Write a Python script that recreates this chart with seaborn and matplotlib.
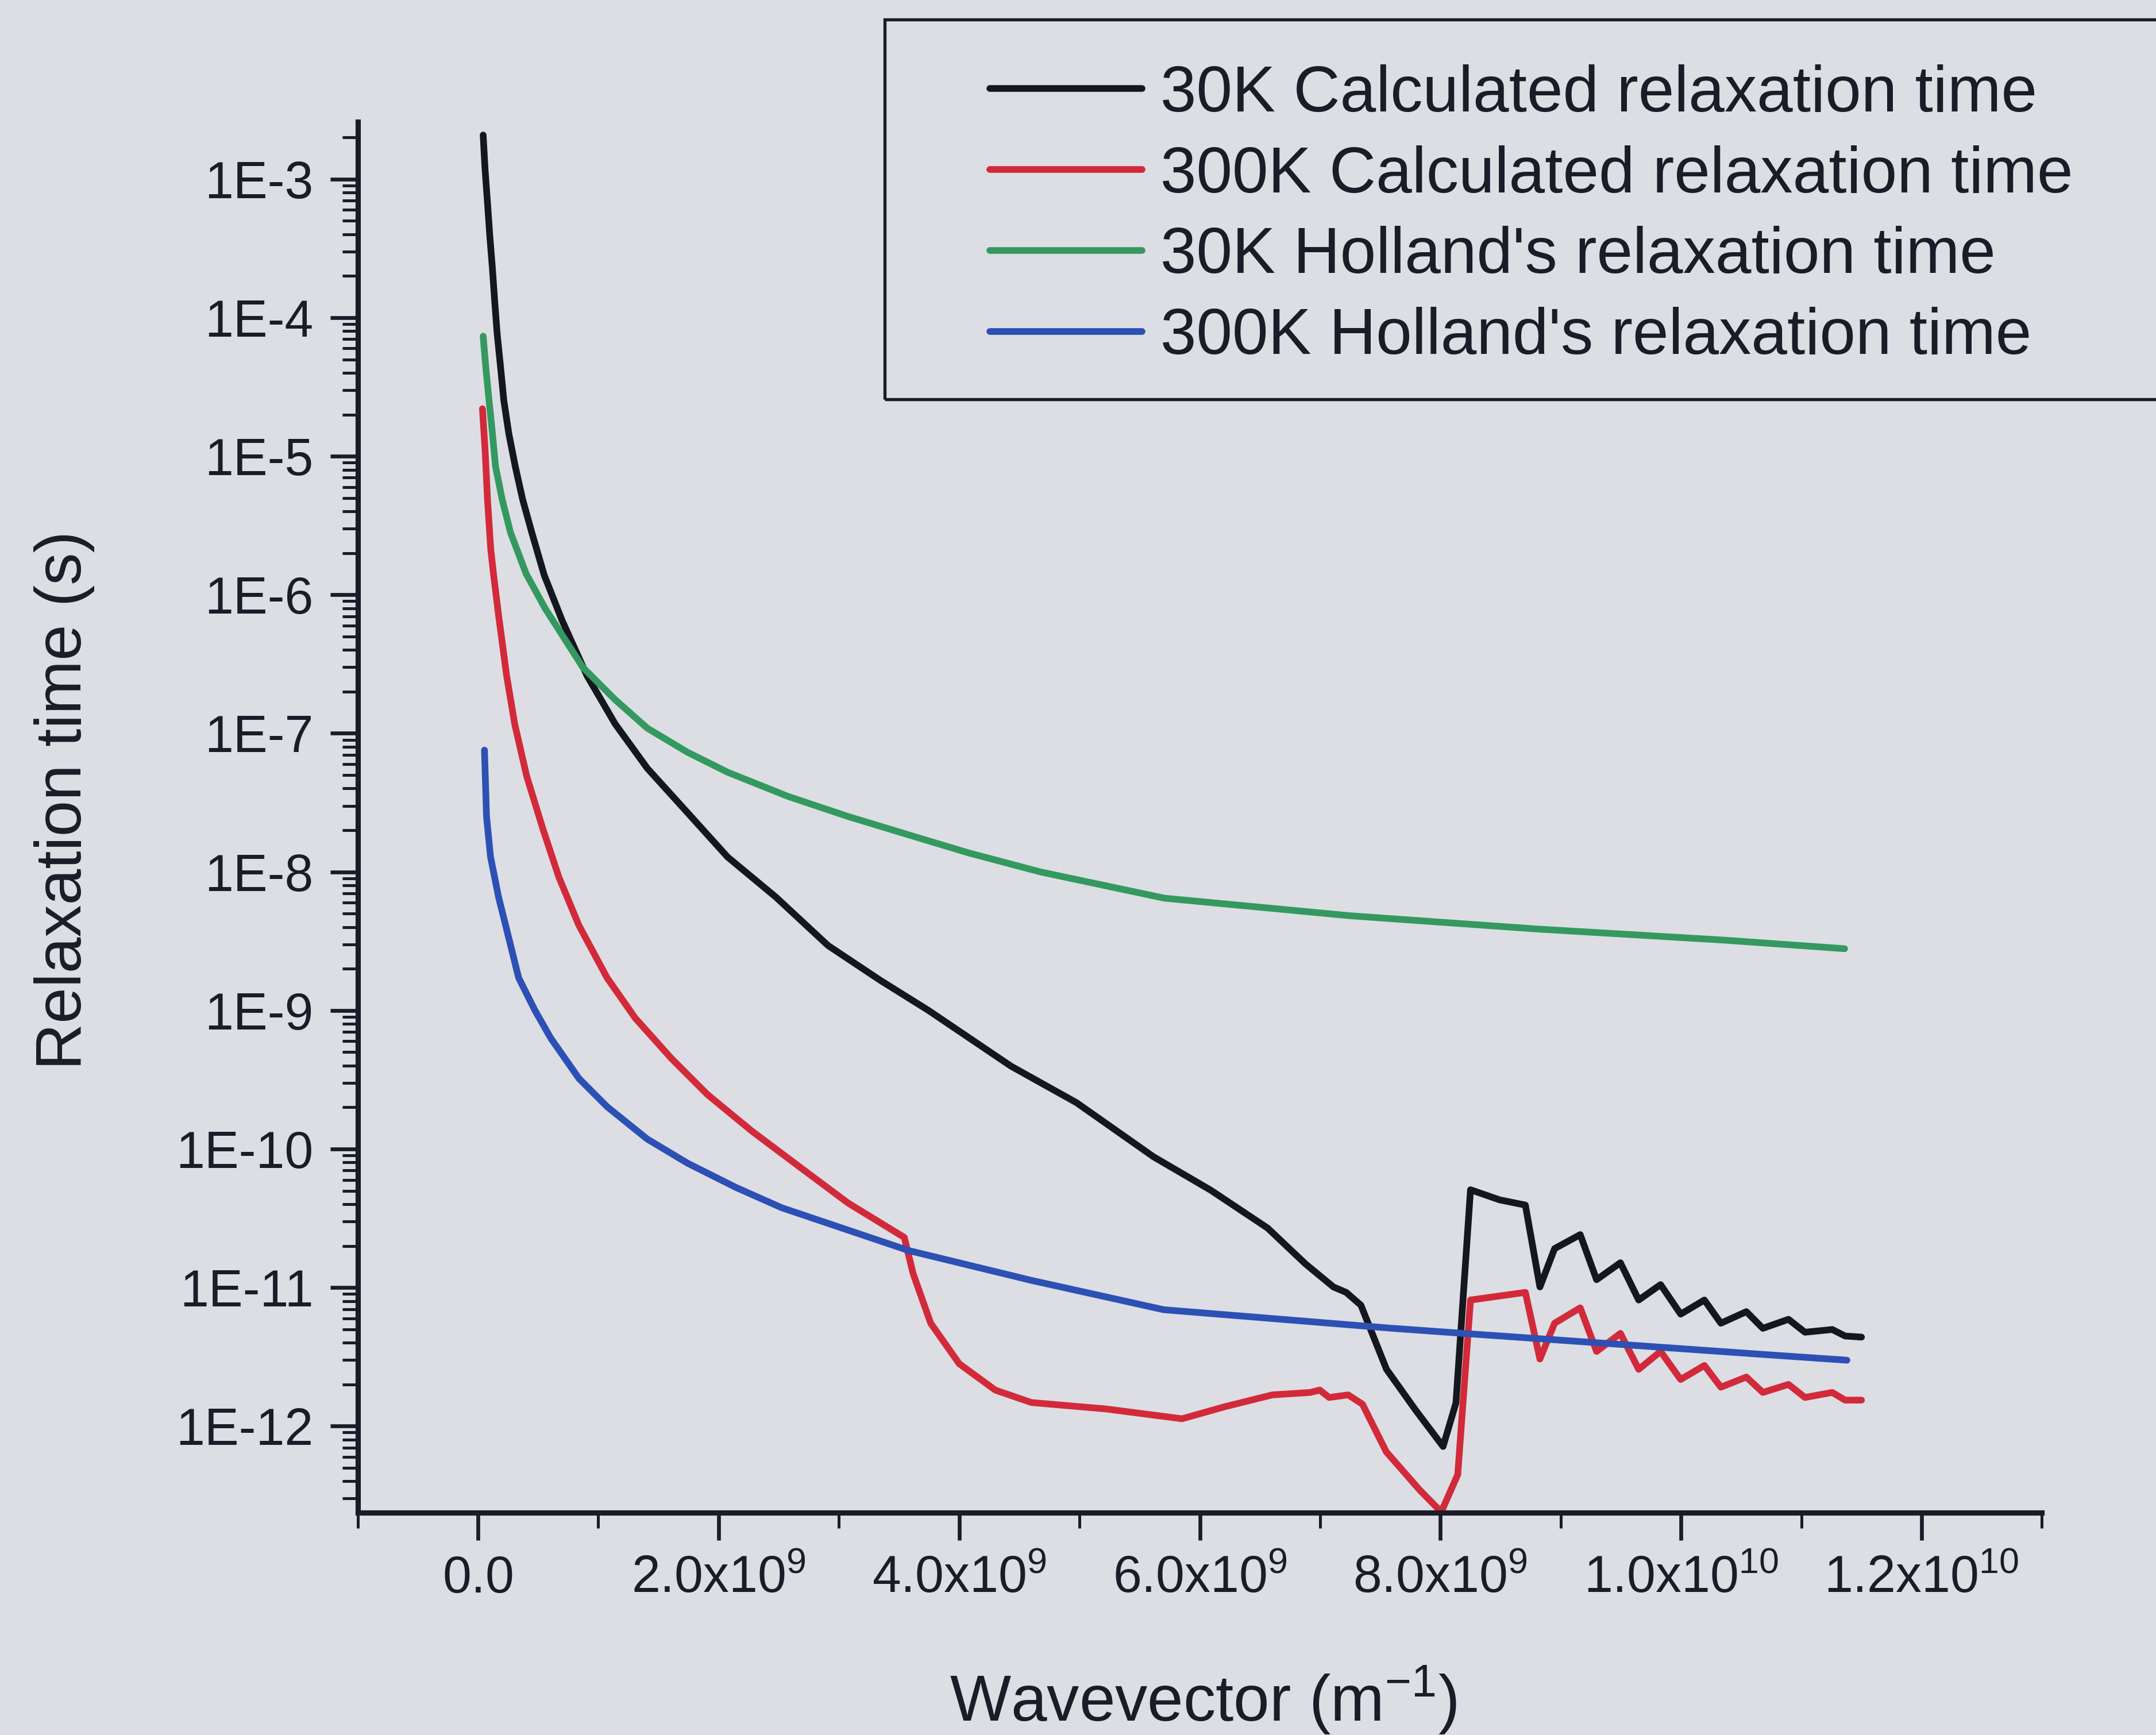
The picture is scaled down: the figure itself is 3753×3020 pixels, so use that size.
#***********************************
#*   LIBRERIAS                     *
#***********************************
import numpy as np
import pandas as pd
import seaborn as sns
import matplotlib
matplotlib.use("Agg")
import matplotlib.pyplot as plt
from matplotlib import ticker
from matplotlib.patches import Rectangle

#***********************************
#*   DATOS  *
#***********************************
labels = ["30K Calculated relaxation time",
          "300K Calculated relaxation time",
          "30K Holland's relaxation time",
          "300K Holland's relaxation time"]
colors = ["#15171f", "#d22a3a", "#34995f", "#2d50b4"]

q_30k_calc = [0.043e9, 0.059e9, 0.079e9, 0.098e9, 0.12e9, 0.139e9, 0.16e9, 0.188e9,
              0.215e9, 0.256e9, 0.31e9, 0.371e9, 0.447e9, 0.55e9, 0.70e9, 0.906e9,
              1.14e9, 1.407e9, 1.741e9, 2.075e9, 2.476e9, 2.91e9, 3.344e9, 3.745e9,
              4.431e9, 4.975e9, 5.615e9,
              6.09e9, 6.563e9, 6.879e9, 7.111e9, 7.217e9, 7.339e9, 7.552e9, 7.795e9,
              8.022e9, 8.129e9, 8.25e9, 8.494e9, 8.706e9, 8.827e9, 8.949e9, 9.162e9,
              9.298e9, 9.496e9, 9.648e9, 9.83e9, 9.997e9, 10.194e9, 10.331e9, 10.543e9,
              10.68e9, 10.893e9, 11.03e9, 11.257e9, 11.364e9, 11.5e9]
tau_30k_calc = [2.08e-3, 1.17e-3, 6.76e-4, 3.91e-4, 2.26e-4, 1.31e-4, 7.55e-5, 4.37e-5,
                2.52e-5, 1.46e-5, 8.43e-6, 4.88e-6, 2.82e-6, 1.39e-6, 6.5e-7, 2.61e-7,
                1.17e-7, 5.6e-8, 2.68e-8, 1.28e-8, 6.58e-9, 2.94e-9, 1.65e-9, 1.0e-9,
                3.96e-10, 2.16e-10, 8.79e-11,
                5.05e-11, 2.69e-11, 1.48e-11, 1.01e-11, 9.23e-12, 7.46e-12, 2.57e-12, 1.30e-12,
                7.13e-13, 1.47e-12, 5.08e-11, 4.29e-11, 3.94e-11, 1.01e-11, 1.91e-11, 2.41e-11,
                1.14e-11, 1.51e-11, 8.13e-12, 1.05e-11, 6.43e-12, 8.13e-12, 5.53e-12, 6.70e-12,
                5.08e-12, 5.90e-12, 4.76e-12, 4.98e-12, 4.47e-12, 4.39e-12]

q_300k_calc = [0.037e9, 0.059e9, 0.079e9, 0.106e9, 0.13e9, 0.171e9, 0.238e9, 0.305e9,
               0.405e9, 0.539e9, 0.672e9, 0.839e9, 1.073e9, 1.307e9, 1.607e9, 1.908e9,
               2.275e9, 2.676e9, 3.077e9, 3.544e9, 3.617e9, 3.763e9, 4.0e9, 4.3e9,
               4.6e9, 5.22e9, 5.852e9, 6.207e9, 6.602e9, 6.917e9, 6.997e9, 7.075e9,
               7.233e9, 7.352e9, 7.55e9, 7.825e9, 8.007e9, 8.144e9, 8.25e9, 8.706e9,
               8.827e9, 8.949e9, 9.162e9, 9.298e9, 9.496e9, 9.648e9, 9.83e9, 9.997e9,
               10.194e9, 10.331e9, 10.543e9, 10.68e9, 10.893e9, 11.03e9, 11.257e9, 11.364e9,
               11.5e9]
tau_300k_calc = [2.2e-5, 1.11e-5, 4.88e-6, 2.14e-6, 1.39e-6, 7.13e-7, 2.61e-7, 1.17e-7,
                 4.9e-8, 2.05e-8, 9.18e-9, 4.11e-9, 1.72e-9, 8.81e-10, 4.51e-10, 2.47e-10,
                 1.35e-10, 7.4e-11, 4.07e-11, 2.3e-11, 1.26e-11, 5.53e-12, 2.82e-12, 1.82e-12,
                 1.48e-12, 1.33e-12, 1.13e-12, 1.38e-12, 1.68e-12, 1.75e-12, 1.82e-12, 1.61e-12,
                 1.68e-12, 1.44e-12, 6.52e-13, 3.48e-13, 2.4e-13, 4.47e-13, 8.13e-12, 9.23e-12,
                 3.05e-12, 5.53e-12, 7.14e-12, 3.46e-12, 4.67e-12, 2.57e-12, 3.46e-12, 2.17e-12,
                 2.74e-12, 1.91e-12, 2.26e-12, 1.75e-12, 2.0e-12, 1.61e-12, 1.75e-12, 1.54e-12,
                 1.54e-12]

q_30k_holl = [0.043e9, 0.065e9, 0.092e9, 0.12e9, 0.146e9, 0.201e9, 0.27e9, 0.40e9,
              0.557e9, 0.872e9, 1.14e9, 1.407e9, 1.741e9, 2.075e9, 2.576e9, 3.077e9,
              3.58e9, 4.08e9, 4.674e9, 5.706e9, 7.255e9, 8.804e9, 10.353e9, 11.36e9]
tau_30k_holl = [7.35e-5, 4.37e-5, 2.52e-5, 1.46e-5, 8.43e-6, 4.88e-6, 2.82e-6, 1.42e-6,
                8.0e-7, 2.99e-7, 1.75e-7, 1.09e-7, 7.31e-8, 5.24e-8, 3.51e-8, 2.51e-8,
                1.85e-8, 1.37e-8, 1.0e-8, 6.46e-9, 4.82e-9, 3.87e-9, 3.22e-9, 2.79e-9]

q_300k_holl = [0.054e9, 0.071e9, 0.104e9, 0.171e9, 0.238e9, 0.338e9, 0.471e9, 0.605e9,
               0.839e9, 1.073e9, 1.407e9, 1.741e9, 2.142e9, 2.524e9, 3.58e9, 4.594e9,
               5.7e9, 7.589e9, 8.19e9, 9.404e9, 10.619e9, 11.379e9]
tau_300k_holl = [7.57e-8, 2.51e-8, 1.29e-8, 6.58e-9, 3.85e-9, 1.72e-9, 1.01e-9, 6.31e-10,
                 3.23e-10, 2.02e-10, 1.18e-10, 7.91e-11, 5.29e-11, 3.77e-11, 1.85e-11, 1.13e-11,
                 6.92e-12, 5.09e-12, 4.67e-12, 3.94e-12, 3.32e-12, 2.99e-12]

#***********************************
#*   DataFrame en formato largo    *
#***********************************
partes = []
for lab, q, t in zip(labels,
                     [q_30k_calc, q_300k_calc, q_30k_holl, q_300k_holl],
                     [tau_30k_calc, tau_300k_calc, tau_30k_holl, tau_300k_holl]):
    partes.append(pd.DataFrame({"q": q, "tau": t, "serie": lab}))
df = pd.concat(partes, ignore_index=True)

#***********************************
#*   Estilo                        *
#***********************************
fondo = "#dcdee4"
tinta = "#1a1c28"
sns.set_theme(style="ticks")
plt.rcParams["font.family"] = ["Liberation Sans", "DejaVu Sans"]
plt.rcParams["mathtext.fontset"] = "custom"
plt.rcParams["mathtext.rm"] = "Liberation Sans"
plt.rcParams["mathtext.default"] = "regular"
plt.rcParams["text.color"] = tinta
plt.rcParams["axes.labelcolor"] = tinta
plt.rcParams["xtick.color"] = tinta
plt.rcParams["ytick.color"] = tinta

fig, ax = plt.subplots(figsize=(3753 / 300, 3020 / 300), dpi=300)
fig.patch.set_facecolor(fondo)
ax.set_facecolor(fondo)
fig.subplots_adjust(left=0.1659, right=0.9471, bottom=0.1281, top=0.9299)

sns.lineplot(data=df, x="q", y="tau", hue="serie", hue_order=labels,
             palette=colors, sort=False, estimator=None, lw=2.8, ax=ax)

ax.set_yscale("log")
ax.set_xlim(-1e9, 1.3e10)
ax.set_ylim(2.37e-13, 2.6e-3)

#***********************************
#*   Ejes y marcas                 *
#***********************************
sns.despine(ax=ax)
for lado in ["left", "bottom"]:
    ax.spines[lado].set_linewidth(2.2)
    ax.spines[lado].set_color(tinta)

ax.xaxis.set_major_locator(ticker.MultipleLocator(2e9))
ax.xaxis.set_minor_locator(ticker.MultipleLocator(1e9))


def etiqueta_x(v, pos):
    if v < -1:
        return ""
    if abs(v) < 1:
        return r"$0.0$"
    e = int(np.floor(np.log10(v)))
    m = v / 10 ** e
    return r"$%.1f\mathrm{x}10^{%d}$" % (m, e)


ax.xaxis.set_major_formatter(ticker.FuncFormatter(etiqueta_x))
ax.yaxis.set_major_locator(ticker.LogLocator(base=10, numticks=20))
ax.yaxis.set_minor_locator(ticker.LogLocator(base=10, subs=np.arange(2, 10), numticks=20))
ax.yaxis.set_major_formatter(ticker.FuncFormatter(lambda v, p: "1E%d" % round(np.log10(v))))
ax.yaxis.set_minor_formatter(ticker.NullFormatter())

ax.tick_params(which="major", direction="out", length=11.5, width=1.6, labelsize=21.5, pad=7)
ax.tick_params(which="minor", direction="out", length=6.5, width=1.2)
ax.tick_params(axis="x", which="major", pad=6)

ax.set_xlabel(r"Wavevector (m$^{-1}$)", fontsize=27)
ax.set_ylabel("Relaxation time (s)", fontsize=27)
ax.xaxis.set_label_coords(0.502, -0.109)
ax.yaxis.set_label_coords(-0.156, 0.512)

#***********************************
#*   Leyenda con recuadro          *
#***********************************
handles, labs = ax.get_legend_handles_labels()
ax.get_legend().remove()
for h in handles:
    h.set_linewidth(2.8)
fig.legend(handles, labs, loc="center left", bbox_to_anchor=(0.459, 0.8755),
           frameon=False, borderpad=0, borderaxespad=0, fontsize=27,
           handlelength=2.36, handletextpad=0.28, labelspacing=0.31)
fig.add_artist(Rectangle((0.4103, 0.7700), 0.7, 0.2188, transform=fig.transFigure,
                         fill=False, lw=1.3, ec=tinta, clip_on=False))

fig.savefig("out.png", dpi=300, facecolor=fondo)
